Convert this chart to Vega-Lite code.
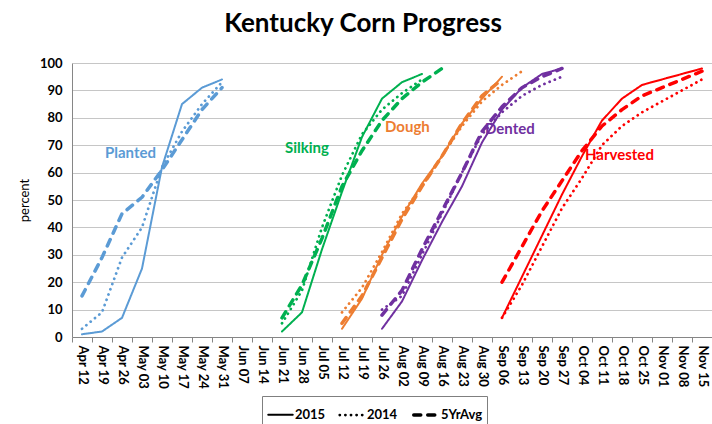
{
  "$schema": "https://vega.github.io/schema/vega-lite/v6.json",
  "width": 640,
  "height": 274,
  "autosize": "none",
  "padding": {"left": 72, "top": 63, "right": 0, "bottom": 87},
  "background": "white",
  "title": {"text": "Kentucky Corn Progress", "font": "Lato", "fontSize": 26, "fontWeight": "bold", "color": "black", "anchor": "middle", "dx": -29, "offset": 20},
  "config": {"font": "Lato", "view": {"stroke": null}},
  "datasets": {
    "progress": [
      {"stage": "Planted", "series": "2015", "date": "2015-04-12", "pct": 1},
      {"stage": "Planted", "series": "2015", "date": "2015-04-19", "pct": 2},
      {"stage": "Planted", "series": "2015", "date": "2015-04-26", "pct": 7},
      {"stage": "Planted", "series": "2015", "date": "2015-05-03", "pct": 25},
      {"stage": "Planted", "series": "2015", "date": "2015-05-10", "pct": 62},
      {"stage": "Planted", "series": "2015", "date": "2015-05-17", "pct": 85},
      {"stage": "Planted", "series": "2015", "date": "2015-05-24", "pct": 91},
      {"stage": "Planted", "series": "2015", "date": "2015-05-31", "pct": 94},
      {"stage": "Planted", "series": "2014", "date": "2015-04-12", "pct": 3},
      {"stage": "Planted", "series": "2014", "date": "2015-04-19", "pct": 9},
      {"stage": "Planted", "series": "2014", "date": "2015-04-26", "pct": 29},
      {"stage": "Planted", "series": "2014", "date": "2015-05-03", "pct": 40},
      {"stage": "Planted", "series": "2014", "date": "2015-05-10", "pct": 62},
      {"stage": "Planted", "series": "2014", "date": "2015-05-17", "pct": 75},
      {"stage": "Planted", "series": "2014", "date": "2015-05-24", "pct": 85},
      {"stage": "Planted", "series": "2014", "date": "2015-05-31", "pct": 93},
      {"stage": "Planted", "series": "5YrAvg", "date": "2015-04-12", "pct": 15},
      {"stage": "Planted", "series": "5YrAvg", "date": "2015-04-19", "pct": 29},
      {"stage": "Planted", "series": "5YrAvg", "date": "2015-04-26", "pct": 45},
      {"stage": "Planted", "series": "5YrAvg", "date": "2015-05-03", "pct": 51},
      {"stage": "Planted", "series": "5YrAvg", "date": "2015-05-10", "pct": 61},
      {"stage": "Planted", "series": "5YrAvg", "date": "2015-05-17", "pct": 72},
      {"stage": "Planted", "series": "5YrAvg", "date": "2015-05-24", "pct": 83},
      {"stage": "Planted", "series": "5YrAvg", "date": "2015-05-31", "pct": 91},

      {"stage": "Silking", "series": "2015", "date": "2015-06-21", "pct": 2},
      {"stage": "Silking", "series": "2015", "date": "2015-06-28", "pct": 9},
      {"stage": "Silking", "series": "2015", "date": "2015-07-05", "pct": 32},
      {"stage": "Silking", "series": "2015", "date": "2015-07-12", "pct": 53},
      {"stage": "Silking", "series": "2015", "date": "2015-07-19", "pct": 73},
      {"stage": "Silking", "series": "2015", "date": "2015-07-26", "pct": 87},
      {"stage": "Silking", "series": "2015", "date": "2015-08-02", "pct": 93},
      {"stage": "Silking", "series": "2015", "date": "2015-08-09", "pct": 96},
      {"stage": "Silking", "series": "2014", "date": "2015-06-21", "pct": 5},
      {"stage": "Silking", "series": "2014", "date": "2015-06-28", "pct": 17},
      {"stage": "Silking", "series": "2014", "date": "2015-07-05", "pct": 40},
      {"stage": "Silking", "series": "2014", "date": "2015-07-12", "pct": 59},
      {"stage": "Silking", "series": "2014", "date": "2015-07-19", "pct": 74},
      {"stage": "Silking", "series": "2014", "date": "2015-07-26", "pct": 83},
      {"stage": "Silking", "series": "2014", "date": "2015-08-02", "pct": 89},
      {"stage": "Silking", "series": "2014", "date": "2015-08-09", "pct": 94},
      {"stage": "Silking", "series": "5YrAvg", "date": "2015-06-21", "pct": 7},
      {"stage": "Silking", "series": "5YrAvg", "date": "2015-06-28", "pct": 19},
      {"stage": "Silking", "series": "5YrAvg", "date": "2015-07-05", "pct": 36},
      {"stage": "Silking", "series": "5YrAvg", "date": "2015-07-12", "pct": 55},
      {"stage": "Silking", "series": "5YrAvg", "date": "2015-07-19", "pct": 68},
      {"stage": "Silking", "series": "5YrAvg", "date": "2015-07-26", "pct": 79},
      {"stage": "Silking", "series": "5YrAvg", "date": "2015-08-02", "pct": 87},
      {"stage": "Silking", "series": "5YrAvg", "date": "2015-08-09", "pct": 93},
      {"stage": "Silking", "series": "5YrAvg", "date": "2015-08-16", "pct": 98},

      {"stage": "Dough", "series": "2015", "date": "2015-07-12", "pct": 3},
      {"stage": "Dough", "series": "2015", "date": "2015-07-19", "pct": 14},
      {"stage": "Dough", "series": "2015", "date": "2015-07-26", "pct": 30},
      {"stage": "Dough", "series": "2015", "date": "2015-08-02", "pct": 44},
      {"stage": "Dough", "series": "2015", "date": "2015-08-09", "pct": 56},
      {"stage": "Dough", "series": "2015", "date": "2015-08-16", "pct": 66},
      {"stage": "Dough", "series": "2015", "date": "2015-08-23", "pct": 78},
      {"stage": "Dough", "series": "2015", "date": "2015-08-30", "pct": 87},
      {"stage": "Dough", "series": "2015", "date": "2015-09-06", "pct": 95},
      {"stage": "Dough", "series": "2014", "date": "2015-07-12", "pct": 9},
      {"stage": "Dough", "series": "2014", "date": "2015-07-19", "pct": 18},
      {"stage": "Dough", "series": "2014", "date": "2015-07-26", "pct": 31},
      {"stage": "Dough", "series": "2014", "date": "2015-08-02", "pct": 45},
      {"stage": "Dough", "series": "2014", "date": "2015-08-09", "pct": 55},
      {"stage": "Dough", "series": "2014", "date": "2015-08-16", "pct": 66},
      {"stage": "Dough", "series": "2014", "date": "2015-08-23", "pct": 77},
      {"stage": "Dough", "series": "2014", "date": "2015-08-30", "pct": 86},
      {"stage": "Dough", "series": "2014", "date": "2015-09-06", "pct": 92},
      {"stage": "Dough", "series": "2014", "date": "2015-09-13", "pct": 97},
      {"stage": "Dough", "series": "5YrAvg", "date": "2015-07-12", "pct": 5},
      {"stage": "Dough", "series": "5YrAvg", "date": "2015-07-19", "pct": 15},
      {"stage": "Dough", "series": "5YrAvg", "date": "2015-07-26", "pct": 29},
      {"stage": "Dough", "series": "5YrAvg", "date": "2015-08-02", "pct": 43},
      {"stage": "Dough", "series": "5YrAvg", "date": "2015-08-09", "pct": 55},
      {"stage": "Dough", "series": "5YrAvg", "date": "2015-08-16", "pct": 66},
      {"stage": "Dough", "series": "5YrAvg", "date": "2015-08-23", "pct": 78},
      {"stage": "Dough", "series": "5YrAvg", "date": "2015-08-30", "pct": 88},
      {"stage": "Dough", "series": "5YrAvg", "date": "2015-09-06", "pct": 94},

      {"stage": "Dented", "series": "2015", "date": "2015-07-26", "pct": 3},
      {"stage": "Dented", "series": "2015", "date": "2015-08-02", "pct": 13},
      {"stage": "Dented", "series": "2015", "date": "2015-08-09", "pct": 28},
      {"stage": "Dented", "series": "2015", "date": "2015-08-16", "pct": 42},
      {"stage": "Dented", "series": "2015", "date": "2015-08-23", "pct": 55},
      {"stage": "Dented", "series": "2015", "date": "2015-08-30", "pct": 71},
      {"stage": "Dented", "series": "2015", "date": "2015-09-06", "pct": 83},
      {"stage": "Dented", "series": "2015", "date": "2015-09-13", "pct": 91},
      {"stage": "Dented", "series": "2015", "date": "2015-09-20", "pct": 96},
      {"stage": "Dented", "series": "2015", "date": "2015-09-27", "pct": 98},
      {"stage": "Dented", "series": "2014", "date": "2015-07-26", "pct": 10},
      {"stage": "Dented", "series": "2014", "date": "2015-08-02", "pct": 15},
      {"stage": "Dented", "series": "2014", "date": "2015-08-09", "pct": 30},
      {"stage": "Dented", "series": "2014", "date": "2015-08-16", "pct": 45},
      {"stage": "Dented", "series": "2014", "date": "2015-08-23", "pct": 60},
      {"stage": "Dented", "series": "2014", "date": "2015-08-30", "pct": 74},
      {"stage": "Dented", "series": "2014", "date": "2015-09-06", "pct": 82},
      {"stage": "Dented", "series": "2014", "date": "2015-09-13", "pct": 88},
      {"stage": "Dented", "series": "2014", "date": "2015-09-20", "pct": 92},
      {"stage": "Dented", "series": "2014", "date": "2015-09-27", "pct": 95},
      {"stage": "Dented", "series": "5YrAvg", "date": "2015-07-26", "pct": 8},
      {"stage": "Dented", "series": "5YrAvg", "date": "2015-08-02", "pct": 17},
      {"stage": "Dented", "series": "5YrAvg", "date": "2015-08-09", "pct": 32},
      {"stage": "Dented", "series": "5YrAvg", "date": "2015-08-16", "pct": 46},
      {"stage": "Dented", "series": "5YrAvg", "date": "2015-08-23", "pct": 60},
      {"stage": "Dented", "series": "5YrAvg", "date": "2015-08-30", "pct": 75},
      {"stage": "Dented", "series": "5YrAvg", "date": "2015-09-06", "pct": 84},
      {"stage": "Dented", "series": "5YrAvg", "date": "2015-09-13", "pct": 91},
      {"stage": "Dented", "series": "5YrAvg", "date": "2015-09-20", "pct": 95},
      {"stage": "Dented", "series": "5YrAvg", "date": "2015-09-27", "pct": 98},

      {"stage": "Harvested", "series": "2015", "date": "2015-09-06", "pct": 7},
      {"stage": "Harvested", "series": "2015", "date": "2015-09-13", "pct": 22},
      {"stage": "Harvested", "series": "2015", "date": "2015-09-20", "pct": 37},
      {"stage": "Harvested", "series": "2015", "date": "2015-09-27", "pct": 52},
      {"stage": "Harvested", "series": "2015", "date": "2015-10-04", "pct": 66},
      {"stage": "Harvested", "series": "2015", "date": "2015-10-11", "pct": 79},
      {"stage": "Harvested", "series": "2015", "date": "2015-10-18", "pct": 87},
      {"stage": "Harvested", "series": "2015", "date": "2015-10-25", "pct": 92},
      {"stage": "Harvested", "series": "2015", "date": "2015-11-01", "pct": 94},
      {"stage": "Harvested", "series": "2015", "date": "2015-11-08", "pct": 96},
      {"stage": "Harvested", "series": "2015", "date": "2015-11-15", "pct": 98},
      {"stage": "Harvested", "series": "2014", "date": "2015-09-06", "pct": 7},
      {"stage": "Harvested", "series": "2014", "date": "2015-09-13", "pct": 19},
      {"stage": "Harvested", "series": "2014", "date": "2015-09-20", "pct": 33},
      {"stage": "Harvested", "series": "2014", "date": "2015-09-27", "pct": 47},
      {"stage": "Harvested", "series": "2014", "date": "2015-10-04", "pct": 58},
      {"stage": "Harvested", "series": "2014", "date": "2015-10-11", "pct": 70},
      {"stage": "Harvested", "series": "2014", "date": "2015-10-18", "pct": 77},
      {"stage": "Harvested", "series": "2014", "date": "2015-10-25", "pct": 82},
      {"stage": "Harvested", "series": "2014", "date": "2015-11-01", "pct": 86},
      {"stage": "Harvested", "series": "2014", "date": "2015-11-08", "pct": 90},
      {"stage": "Harvested", "series": "2014", "date": "2015-11-15", "pct": 94},
      {"stage": "Harvested", "series": "5YrAvg", "date": "2015-09-06", "pct": 20},
      {"stage": "Harvested", "series": "5YrAvg", "date": "2015-09-13", "pct": 33},
      {"stage": "Harvested", "series": "5YrAvg", "date": "2015-09-20", "pct": 46},
      {"stage": "Harvested", "series": "5YrAvg", "date": "2015-09-27", "pct": 57},
      {"stage": "Harvested", "series": "5YrAvg", "date": "2015-10-04", "pct": 68},
      {"stage": "Harvested", "series": "5YrAvg", "date": "2015-10-11", "pct": 77},
      {"stage": "Harvested", "series": "5YrAvg", "date": "2015-10-18", "pct": 83},
      {"stage": "Harvested", "series": "5YrAvg", "date": "2015-10-25", "pct": 88},
      {"stage": "Harvested", "series": "5YrAvg", "date": "2015-11-01", "pct": 91},
      {"stage": "Harvested", "series": "5YrAvg", "date": "2015-11-08", "pct": 94},
      {"stage": "Harvested", "series": "5YrAvg", "date": "2015-11-15", "pct": 97}
    ],
    "labels": [
      {"stage": "Planted", "date": "2015-04-19", "pct": 67},
      {"stage": "Silking", "date": "2015-06-21", "pct": 69},
      {"stage": "Dough", "date": "2015-07-26", "pct": 76.5},
      {"stage": "Dented", "date": "2015-08-30", "pct": 76},
      {"stage": "Harvested", "date": "2015-10-04", "pct": 66.5}
    ]
  },
  "encoding": {
    "x": {
      "field": "date",
      "type": "ordinal",
      "bandPosition": 0.5,
      "scale": {
        "type": "band",
        "paddingInner": 0,
        "paddingOuter": 0,
        "domain": ["2015-04-12","2015-04-19","2015-04-26","2015-05-03","2015-05-10","2015-05-17","2015-05-24","2015-05-31","2015-06-07","2015-06-14","2015-06-21","2015-06-28","2015-07-05","2015-07-12","2015-07-19","2015-07-26","2015-08-02","2015-08-09","2015-08-16","2015-08-23","2015-08-30","2015-09-06","2015-09-13","2015-09-20","2015-09-27","2015-10-04","2015-10-11","2015-10-18","2015-10-25","2015-11-01","2015-11-08","2015-11-15"]
      },
      "axis": {
        "title": null,
        "labelAngle": 90,
        "labelAlign": "left",
        "labelBaseline": "middle",
        "labelOverlap": false,
        "labelExpr": "datum.value ? utcFormat(toDate(datum.value), '%b %d') : ''",
        "tickBand": "extent",
        "grid": false,
        "domainColor": "#868686",
        "tickColor": "#868686",
        "tickSize": 5,
        "labelPadding": 3,
        "labelFont": "Lato",
        "labelFontSize": 13,
        "labelFontWeight": "bold",
        "labelColor": "black"
      }
    },
    "y": {
      "field": "pct",
      "type": "quantitative",
      "scale": {"domain": [0, 100]},
      "axis": {
        "title": "percent",
        "values": [0, 10, 20, 30, 40, 50, 60, 70, 80, 90, 100],
        "grid": true,
        "gridColor": "#C6C6C6",
        "ticks": false,
        "domainColor": "#868686",
        "labelFont": "Lato",
        "labelFontSize": 13,
        "labelFontWeight": "bold",
        "labelColor": "black",
        "labelPadding": 10,
        "titleFont": "Lato",
        "titleFontSize": 13,
        "titleFontWeight": "normal",
        "titleColor": "black",
        "titlePadding": 8
      }
    },
    "color": {
      "field": "stage",
      "type": "nominal",
      "scale": {
        "domain": ["Planted", "Silking", "Dough", "Dented", "Harvested"],
        "range": ["#5B9BD5", "#00B050", "#ED7D31", "#7030A0", "#FF0000"]
      },
      "legend": null
    }
  },
  "layer": [
    {
      "data": {"name": "progress"},
      "mark": {"type": "line", "strokeCap": "round", "strokeJoin": "round"},
      "encoding": {
        "strokeDash": {
          "field": "series",
          "type": "nominal",
          "scale": {"domain": ["2015", "2014", "5YrAvg"], "range": [[1, 0], [0.1, 5.5], [7, 7]]},
          "legend": {
            "title": null,
            "orient": "none",
            "legendX": 190,
            "legendY": 333,
            "direction": "horizontal",
            "symbolType": "stroke",
            "symbolSize": 600,
            "symbolStrokeColor": "black",
            "labelFont": "Lato",
            "labelFontSize": 13,
            "labelFontWeight": "bold",
            "labelColor": "black",
            "labelOffset": 1,
            "columnPadding": 8,
            "strokeColor": "#7F7F7F",
            "padding": 5,
            "encode": {"symbols": {"update": {"strokeCap": {"value": "round"}}}}
          }
        },
        "strokeWidth": {
          "field": "series",
          "type": "nominal",
          "scale": {"domain": ["2015", "2014", "5YrAvg"], "range": [2, 3.5, 3.5]},
          "legend": {
            "title": null,
            "orient": "none",
            "legendX": 190,
            "legendY": 333,
            "direction": "horizontal",
            "symbolType": "stroke",
            "symbolSize": 600,
            "symbolStrokeColor": "black",
            "labelFont": "Lato",
            "labelFontSize": 13,
            "labelFontWeight": "bold",
            "labelColor": "black",
            "labelOffset": 1,
            "columnPadding": 8,
            "strokeColor": "#7F7F7F",
            "padding": 5,
            "encode": {"symbols": {"update": {"strokeCap": {"value": "round"}}}}
          }
        }
      }
    },
    {
      "data": {"name": "labels"},
      "mark": {"type": "text", "align": "left", "baseline": "middle", "dx": 3, "font": "Lato", "fontSize": 15, "fontWeight": "bold"},
      "encoding": {
        "text": {"field": "stage", "type": "nominal"}
      }
    }
  ]
}
